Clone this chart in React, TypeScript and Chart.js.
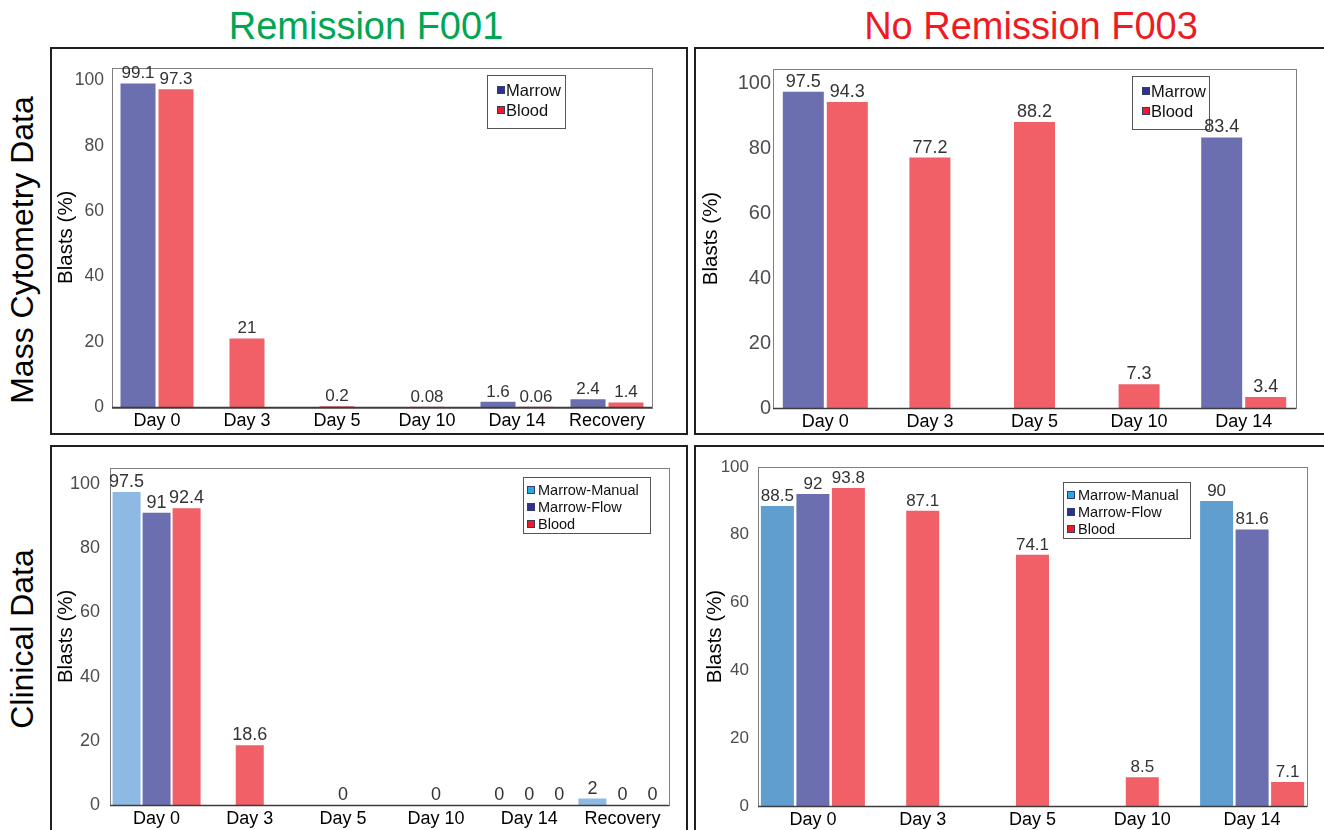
import React, { useEffect, useRef } from "react";
import { Chart, registerables } from "chart.js";
Chart.register(...registerables);

const FONT = '"Liberation Sans", Arial, Helvetica, sans-serif';

// ---- data ----
const daysF001 = ["Day 0", "Day 3", "Day 5", "Day 10", "Day 14", "Recovery"];
const daysF003 = ["Day 0", "Day 3", "Day 5", "Day 10", "Day 14"];
const yTicks = [0, 20, 40, 60, 80, 100];

const massF001Marrow = [99.1, null, null, null, 1.6, 2.4];
const massF001Blood = [97.3, 21, 0.2, 0.08, 0.06, 1.4];

const massF003Marrow = [97.5, null, null, null, 83.4];
const massF003Blood = [94.3, 77.2, 88.2, 7.3, 3.4];

const clinF001Manual = [97.5, null, null, null, 0, 2];
const clinF001Flow = [91, null, null, null, 0, 0];
const clinF001Blood = [92.4, 18.6, 0, 0, 0, 0];

const clinF003Manual = [88.5, null, null, null, 90];
const clinF003Flow = [92, null, null, null, 81.6];
const clinF003Blood = [93.8, 87.1, 74.1, 8.5, 7.1];

// ---- colours ----
const C_MARROW = "#6b6eaf";
const C_BLOOD = "#f15f67";
const C_MANUAL_L = "#8eb9e3";
const C_MANUAL_R = "#5f9ecf";
const L_MARROW = "#2e3192";
const L_BLOOD = "#ed1c24";
const L_MANUAL = "#27aae1";

// ---- plugins ----
const framePlugin = {
  id: "frame",
  afterDatasetsDraw(chart: any) {
    const { ctx, chartArea: a } = chart;
    ctx.save();
    ctx.strokeStyle = "#808080";
    ctx.lineWidth = 1;
    ctx.strokeRect(Math.round(a.left) + 0.5, Math.round(a.top) + 0.5, Math.round(a.width), Math.round(a.height));
    ctx.strokeStyle = "#3c3c3c";
    ctx.lineWidth = 1.5;
    ctx.beginPath();
    ctx.moveTo(a.left, a.bottom + 0.5);
    ctx.lineTo(a.right, a.bottom + 0.5);
    ctx.stroke();
    ctx.restore();
  },
};

const boxLegendPlugin = {
  id: "boxLegend",
  afterDatasetsDraw(chart: any, _args: any, o: any) {
    const { ctx, chartArea: a } = chart;
    const x = Math.round(a.right - o.right - o.w);
    const y = Math.round(a.top + o.top);
    ctx.save();
    ctx.fillStyle = "#ffffff";
    ctx.fillRect(x, y, o.w, o.h);
    ctx.strokeStyle = "#555555";
    ctx.lineWidth = 1;
    ctx.strokeRect(x + 0.5, y + 0.5, o.w, o.h);
    ctx.font = `${o.font}px ${FONT}`;
    ctx.textBaseline = "middle";
    ctx.textAlign = "left";
    chart.data.datasets.forEach((ds: any, i: number) => {
      const cy = y + o.first + i * o.rowH;
      const m = o.marker;
      ctx.fillStyle = ds.legendColor;
      ctx.fillRect(x + o.markerX, Math.round(cy - m / 2), m, m);
      ctx.strokeStyle = "#3a3a6a";
      ctx.strokeRect(x + o.markerX + 0.5, Math.round(cy - m / 2) + 0.5, m - 1, m - 1);
      ctx.fillStyle = "#111111";
      ctx.fillText(ds.label, x + o.textX, cy + 1);
    });
    ctx.restore();
  },
};

const valueLabelsPlugin = {
  id: "valueLabels",
  afterDatasetsDraw(chart: any, _args: any, opts: any) {
    const { ctx } = chart;
    ctx.save();
    ctx.font = `${opts.size}px ${FONT}`;
    ctx.fillStyle = "#333333";
    ctx.textAlign = "center";
    ctx.textBaseline = "alphabetic";
    chart.data.datasets.forEach((ds: any, di: number) => {
      const meta = chart.getDatasetMeta(di);
      meta.data.forEach((el: any, i: number) => {
        const v = ds.data[i];
        if (v === null || v === undefined) return;
        ctx.fillText(String(v), el.x, el.y - opts.gap);
      });
    });
    ctx.restore();
  },
};

type DS = { label: string; data: (number | null)[]; color: string; legend: string };
type PanelProps = {
  left: number; top: number; width: number; height: number;
  labels: string[]; datasets: DS[];
  yMax: number; yW: number; xH: number; padTop: number; padRight: number;
  tickSize: number; tickPad: number; titlePad: number; catPct: number; barW: number;
  valueSize: number;
  legend: { right: number; top: number; w: number; h: number; font: number; first: number; rowH: number; marker: number; markerX: number; textX: number };
};

function Panel(p: PanelProps) {
  const ref = useRef<HTMLCanvasElement>(null);
  useEffect(() => {
    if (!ref.current) return;
    const chart = new Chart(ref.current, {
      type: "bar",
      data: {
        labels: p.labels,
        datasets: p.datasets.map((d) => ({
          label: d.label,
          data: d.data,
          backgroundColor: d.color,
          borderWidth: 0,
          legendColor: d.legend,
        })) as any,
      },
      options: {
        responsive: false,
        animation: false,
        devicePixelRatio: 1,
        layout: { padding: { top: p.padTop, right: p.padRight, left: 0, bottom: 0 } },
        datasets: {
          bar: { skipNull: true, categoryPercentage: p.catPct, barPercentage: 1, maxBarThickness: p.barW },
        },
        plugins: {
          legend: { display: false },
          tooltip: { enabled: false },
          valueLabels: { size: p.valueSize, gap: 5 },
          boxLegend: p.legend,
        } as any,
        scales: {
          x: {
            grid: { display: false, drawTicks: false },
            border: { display: false },
            ticks: { font: { family: FONT, size: 18 }, color: "#000000", padding: 3, maxRotation: 0, autoSkip: false },
            afterFit: (s: any) => { s.height = p.xH; },
          },
          y: {
            min: 0,
            max: p.yMax,
            grid: { display: false, drawTicks: false },
            border: { display: false },
            ticks: { font: { family: FONT, size: p.tickSize }, color: "#4d4d4d", padding: p.tickPad },
            afterBuildTicks: (s: any) => { s.ticks = yTicks.map((v) => ({ value: v })); },
            afterFit: (s: any) => { s.width = p.yW; },
            title: {
              display: true,
              text: "Blasts (%)",
              color: "#000000",
              font: { family: FONT, size: 20.5 },
              padding: { top: p.titlePad, bottom: 0 },
            },
          },
        } as any,
      },
      plugins: [framePlugin, boxLegendPlugin, valueLabelsPlugin],
    });
    return () => chart.destroy();
  }, []);
  return (
    <canvas
      ref={ref}
      width={p.width}
      height={p.height}
      style={{ position: "absolute", left: p.left, top: p.top, width: p.width, height: p.height }}
    />
  );
}

const legendSmall = { font: 16.5, first: 15, rowH: 20, marker: 8, markerX: 10, textX: 19, w: 78, h: 53 };
const legendBig = { font: 14.5, first: 13, rowH: 17, marker: 8, markerX: 4, textX: 15, w: 127, h: 56 };

const boxStyle = (left: number, top: number, width: number, height: number): React.CSSProperties => ({
  position: "absolute", left, top, width, height, boxSizing: "border-box", border: "2px solid #231f20",
});

export default function App() {
  return (
    <div style={{ position: "fixed", left: 0, top: 0, width: 1324, height: 830, overflow: "hidden", background: "#ffffff", fontFamily: FONT }}>
      <div style={{ position: "absolute", left: 166, width: 400, top: 7, textAlign: "center", fontSize: 38, lineHeight: "38px", color: "#00a651" }}>
        Remission F001
      </div>
      <div style={{ position: "absolute", left: 781, width: 500, top: 7, textAlign: "center", fontSize: 38, lineHeight: "38px", color: "#ed1c24" }}>
        No Remission F003
      </div>
      <div style={{ position: "absolute", left: 22, top: 250, transform: "translate(-50%, -50%) rotate(-90deg)", whiteSpace: "nowrap", fontSize: 32, lineHeight: "32px", color: "#000" }}>
        Mass Cytometry Data
      </div>
      <div style={{ position: "absolute", left: 22, top: 639, transform: "translate(-50%, -50%) rotate(-90deg)", whiteSpace: "nowrap", fontSize: 32, lineHeight: "32px", color: "#000" }}>
        Clinical Data
      </div>

      <div style={boxStyle(50, 47, 638, 388)} />
      <div style={boxStyle(694, 47, 700, 388)} />
      <div style={boxStyle(50, 445, 638, 420)} />
      <div style={boxStyle(694, 445, 700, 420)} />

      <Panel
        left={52} top={49} width={634} height={383}
        labels={daysF001}
        datasets={[
          { label: "Marrow", data: massF001Marrow, color: C_MARROW, legend: L_MARROW },
          { label: "Blood", data: massF001Blood, color: C_BLOOD, legend: L_BLOOD },
        ]}
        yMax={104} yW={60} xH={25} padTop={13} padRight={34}
        tickSize={17.5} tickPad={8} titlePad={2} catPct={0.844} barW={35} valueSize={17}
        legend={{ ...legendSmall, right: 87, top: 7 }}
      />
      <Panel
        left={696} top={49} width={628} height={383}
        labels={daysF003}
        datasets={[
          { label: "Marrow", data: massF003Marrow, color: C_MARROW, legend: L_MARROW },
          { label: "Blood", data: massF003Blood, color: C_BLOOD, legend: L_BLOOD },
        ]}
        yMax={104.5} yW={77} xH={24} padTop={20} padRight={28}
        tickSize={20} tickPad={2} titlePad={3} catPct={0.841} barW={41} valueSize={18}
        legend={{ ...legendSmall, w: 77, right: 87, top: 7 }}
      />
      <Panel
        left={52} top={447} width={634} height={383}
        labels={daysF001}
        datasets={[
          { label: "Marrow-Manual", data: clinF001Manual, color: C_MANUAL_L, legend: L_MANUAL },
          { label: "Marrow-Flow", data: clinF001Flow, color: C_MARROW, legend: L_MARROW },
          { label: "Blood", data: clinF001Blood, color: C_BLOOD, legend: L_BLOOD },
        ]}
        yMax={105} yW={58} xH={25} padTop={19} padRight={17}
        tickSize={18} tickPad={10} titlePad={2} catPct={0.966} barW={28} valueSize={18}
        legend={{ ...legendBig, right: 19, top: 9 }}
      />
      <Panel
        left={696} top={447} width={628} height={383}
        labels={daysF003}
        datasets={[
          { label: "Marrow-Manual", data: clinF003Manual, color: C_MANUAL_R, legend: L_MANUAL },
          { label: "Marrow-Flow", data: clinF003Flow, color: C_MARROW, legend: L_MARROW },
          { label: "Blood", data: clinF003Blood, color: C_BLOOD, legend: L_BLOOD },
        ]}
        yMax={100} yW={62} xH={24} padTop={20} padRight={17}
        tickSize={17} tickPad={9} titlePad={7} catPct={0.97} barW={33} valueSize={17}
        legend={{ ...legendBig, right: 117, top: 15 }}
      />
    </div>
  );
}
